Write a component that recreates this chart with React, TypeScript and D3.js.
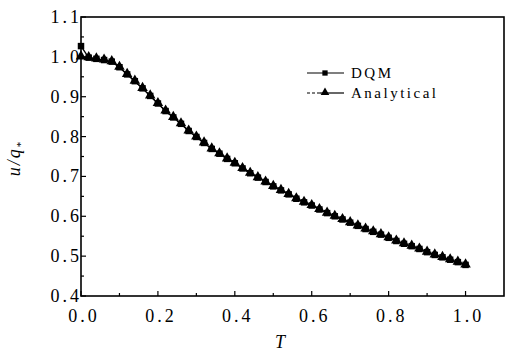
import React from "react";
import * as d3 from "d3";

const T: number[] = [
  0.0, 0.02, 0.04, 0.06, 0.08, 0.1, 0.12, 0.14, 0.16, 0.18,
  0.2, 0.22, 0.24, 0.26, 0.28, 0.3, 0.32, 0.34, 0.36, 0.38,
  0.4, 0.42, 0.44, 0.46, 0.48, 0.5, 0.52, 0.54, 0.56, 0.58,
  0.6, 0.62, 0.64, 0.66, 0.68, 0.7, 0.72, 0.74, 0.76, 0.78,
  0.8, 0.82, 0.84, 0.86, 0.88, 0.9, 0.92, 0.94, 0.96, 0.98, 1.0,
];

const analytical: number[] = [
  1.0, 0.998, 0.995, 0.992, 0.988, 0.974, 0.956, 0.939, 0.921, 0.902,
  0.883, 0.864, 0.848, 0.832, 0.814, 0.799, 0.784, 0.769, 0.757, 0.744,
  0.733, 0.72, 0.708, 0.697, 0.686, 0.675, 0.665, 0.655, 0.644, 0.635,
  0.627, 0.617, 0.608, 0.6, 0.592, 0.584, 0.576, 0.568, 0.561, 0.554,
  0.546, 0.538, 0.531, 0.525, 0.518, 0.51, 0.503, 0.497, 0.491, 0.485, 0.478,
];

const dqm: number[] = [
  1.027, 0.998, 0.995, 0.992, 0.988, 0.974, 0.956, 0.939, 0.921, 0.902,
  0.883, 0.864, 0.848, 0.832, 0.814, 0.799, 0.784, 0.769, 0.757, 0.744,
  0.733, 0.72, 0.708, 0.697, 0.686, 0.675, 0.665, 0.655, 0.644, 0.635,
  0.627, 0.617, 0.608, 0.6, 0.592, 0.584, 0.576, 0.568, 0.561, 0.554,
  0.546, 0.538, 0.531, 0.525, 0.518, 0.51, 0.503, 0.497, 0.491, 0.485, 0.478,
];

const xMajor: number[] = [0.0, 0.2, 0.4, 0.6, 0.8, 1.0];
const xMinor: number[] = [0.1, 0.3, 0.5, 0.7, 0.9];
const yMajor: number[] = [0.4, 0.5, 0.6, 0.7, 0.8, 0.9, 1.0, 1.1];
const yMinor: number[] = [0.45, 0.55, 0.65, 0.75, 0.85, 0.95, 1.05];
const seriesNames: string[] = ["DQM", "Analytical"];

const W = 511;
const H = 353;
const L = 81, R = 504, TOP = 17, B = 296;
const FONT = "'Liberation Serif', 'Times New Roman', serif";

export default function App() {
  const x = d3.scaleLinear().domain([0, 1.1]).range([L, R]);
  const y = d3.scaleLinear().domain([0.4, 1.1]).range([B, TOP]);

  const line = d3
    .line<number>()
    .x((_, i) => x(T[i]))
    .y((d) => y(d));

  const sq = d3.symbol().type(d3.symbolSquare).size(42)()!;
  const tri = d3.symbol().type(d3.symbolTriangle).size(48)()!;
  const sqL = d3.symbol().type(d3.symbolSquare).size(28)()!;
  const triL = d3.symbol().type(d3.symbolTriangle).size(32)()!;

  return (
    <div style={{ position: "absolute", left: 0, top: 0 }}>
      <svg width={W} height={H} style={{ display: "block", background: "#fff" }}>
        {/* frame */}
        <rect x={L} y={TOP} width={R - L} height={B - TOP} fill="none" stroke="#000" strokeWidth={1.6} />

        {/* x ticks */}
        {xMajor.map((t) => (
          <g key={"xm" + t}>
            <line x1={x(t)} x2={x(t)} y1={B} y2={B - 5} stroke="#000" strokeWidth={1.2} />
            <text
              x={x(t)}
              dx={3}
              y={322}
              textAnchor="middle"
              fontFamily={FONT}
              fontSize={18}
              letterSpacing={3}
              fill="#000"
            >
              {t.toFixed(1)}
            </text>
          </g>
        ))}
        {xMinor.map((t) => (
          <line key={"xn" + t} x1={x(t)} x2={x(t)} y1={B} y2={B - 3} stroke="#000" strokeWidth={1.2} />
        ))}

        {/* y ticks */}
        {yMajor.map((v) => (
          <g key={"ym" + v}>
            <line x1={L} x2={L + 5} y1={y(v)} y2={y(v)} stroke="#000" strokeWidth={1.2} />
            <text
              x={82}
              y={y(v) + 6}
              textAnchor="end"
              fontFamily={FONT}
              fontSize={18}
              letterSpacing={3}
              fill="#000"
            >
              {v.toFixed(1)}
            </text>
          </g>
        ))}
        {yMinor.map((v) => (
          <line key={"yn" + v} x1={L} x2={L + 3} y1={y(v)} y2={y(v)} stroke="#000" strokeWidth={1.2} />
        ))}

        {/* axis titles */}
        <text x={280} y={348} textAnchor="middle" fontFamily={FONT} fontStyle="italic" fontSize={18} fill="#000">
          T
        </text>
        <text
          transform="translate(20,158) rotate(-90)"
          textAnchor="middle"
          fontFamily={FONT}
          fontStyle="italic"
          fontSize={18}
          letterSpacing={2}
          fill="#000"
        >
          u/q
          <tspan fontSize={11} dy={4} fontStyle="normal">*</tspan>
        </text>

        {/* series */}
        <path d={line(dqm) || ""} fill="none" stroke="#000" strokeWidth={1.3} />
        <path d={line(analytical) || ""} fill="none" stroke="#000" strokeWidth={1.3} strokeDasharray="5,2" />
        {dqm.map((v, i) => (
          <path key={"s" + i} d={sq} transform={`translate(${x(T[i])},${y(v)})`} fill="#000" />
        ))}
        {analytical.map((v, i) => (
          <path key={"t" + i} d={tri} transform={`translate(${x(T[i])},${y(v) - 0.5})`} fill="#000" />
        ))}

        {/* legend */}
        <g>
          <line x1={307} x2={344} y1={73} y2={73} stroke="#000" strokeWidth={1.2} />
          <path d={sqL} transform="translate(325,73)" fill="#000" />
          <text x={351} y={78} fontFamily={FONT} fontSize={15} letterSpacing={2.5} fill="#000">
            {seriesNames[0]}
          </text>
          <line x1={307} x2={320} y1={93} y2={93} stroke="#000" strokeWidth={1.2} strokeDasharray="3,2" />
          <line x1={320} x2={344} y1={93} y2={93} stroke="#000" strokeWidth={1.2} />
          <path d={triL} transform="translate(325,92.5)" fill="#000" />
          <text x={351} y={98} fontFamily={FONT} fontSize={15} letterSpacing={2.5} fill="#000">
            {seriesNames[1]}
          </text>
        </g>
      </svg>
    </div>
  );
}
